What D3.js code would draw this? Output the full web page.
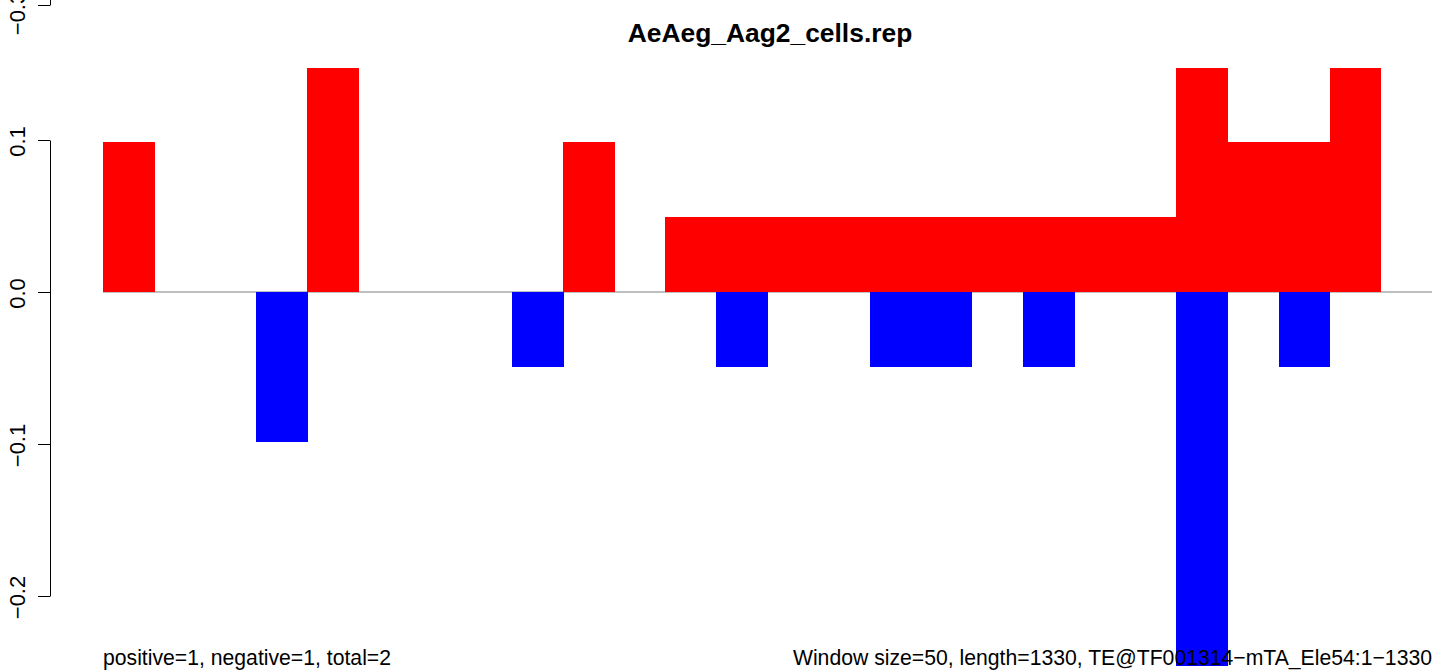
<!DOCTYPE html>
<html>
<head>
<meta charset="utf-8">
<script src="https://cdn.jsdelivr.net/npm/d3@7"></script>
<style>
  html, body { margin: 0; padding: 0; background: #fff; }
  svg { display: block; font-family: "Liberation Sans", Arial, Helvetica, sans-serif; }
</style>
</head>
<body>
<svg id="chart" width="1439" height="672"></svg>
<script>
// ---- data ----
const title = "AeAeg_Aag2_cells.rep";
const windowIndex = [0,1,2,3,4,5,6,7,8,9,10,11,12,13,14,15,16,17,18,19,20,21,22,23,24,25];
const positiveValues = [0.0984,0,0,0,0.1475,0,0,0,0,0.0984,0,0.0492,0.0492,0.0492,0.0492,0.0492,0.0492,0.0492,0.0492,0.0492,0.0492,0.1475,0.0984,0.0984,0.1475,0];
const negativeValues = [0,0,0,-0.0984,0,0,0,0,-0.0492,0,0,0,-0.0492,0,0,-0.0492,-0.0492,0,-0.0492,0,0,-0.2459,0,-0.0492,0,0];
const yTicks = [-0.2, -0.1, 0.0, 0.1];
const upperPanelTicks = [-0.3];
const leftNote = "positive=1, negative=1, total=2";
const rightNote = "Window size=50, length=1330, TE@TF001314\u2212mTA_Ele54:1\u22121330";

// ---- layout ----
const svg = d3.select("#chart");
const x = d3.scaleLinear().domain([0, 26]).range([103, 1432]);
const y = d3.scaleLinear().domain([-0.2, 0.1]).range([596, 140]);
const yUpper = d3.scaleLinear().domain([-0.3, -0.2]).range([5, -147]);
const fmt = v => (v < 0 ? "\u2212" : "") + Math.abs(v).toFixed(1);

// zero line
svg.append("line")
  .attr("x1", x(0)).attr("x2", x(26))
  .attr("y1", y(0)).attr("y2", y(0))
  .attr("stroke", "#808080").attr("stroke-width", 1.2);

const bw = x(1) - x(0);
const barG = svg.append("g").attr("shape-rendering", "crispEdges");
// positive bars
barG.append("g").selectAll("rect")
  .data(windowIndex.filter(i => positiveValues[i] > 0))
  .join("rect")
  .attr("x", i => x(i)).attr("width", bw + 0.5)
  .attr("y", i => y(positiveValues[i]))
  .attr("height", i => y(0) - y(positiveValues[i]))
  .attr("fill", "#ff0000");
// negative bars
barG.append("g").selectAll("rect")
  .data(windowIndex.filter(i => negativeValues[i] < 0))
  .join("rect")
  .attr("x", i => x(i)).attr("width", bw + 0.5)
  .attr("y", y(0))
  .attr("height", i => y(negativeValues[i]) - y(0))
  .attr("fill", "#0000ff");

// y axis
function styleAxis(g, dy) {
  g.select(".domain").attr("stroke", "#000").attr("stroke-width", 1);
  g.selectAll(".tick line").attr("stroke", "#000").attr("stroke-width", 1);
  g.selectAll(".tick text")
    .attr("font-size", 22).attr("fill", "#000")
    .attr("x", 0).attr("y", 0).attr("dy", 0)
    .attr("text-anchor", "middle")
    .attr("transform", `translate(-25,${dy}) rotate(-90)`);
}
svg.append("g")
  .attr("transform", "translate(50,0)")
  .call(d3.axisLeft(y).tickValues(yTicks).tickFormat(fmt).tickSize(12).tickSizeOuter(0))
  .call(g => styleAxis(g, 1));
// fragment of the panel above
svg.append("g")
  .attr("transform", "translate(50,0)")
  .call(d3.axisLeft(yUpper).tickValues(upperPanelTicks).tickFormat(fmt).tickSize(12).tickSizeOuter(0))
  .call(g => styleAxis(g, 8));

// title
svg.append("text")
  .attr("x", 770).attr("y", 42)
  .attr("text-anchor", "middle")
  .attr("font-size", 26.4).attr("font-weight", "bold")
  .text(title);

// notes
svg.append("text")
  .attr("x", 103).attr("y", 665)
  .attr("font-size", 21.2)
  .text(leftNote);
svg.append("text")
  .attr("x", 1432).attr("y", 665)
  .attr("text-anchor", "end")
  .attr("font-size", 21.2)
  .text(rightNote);
</script>
</body>
</html>
